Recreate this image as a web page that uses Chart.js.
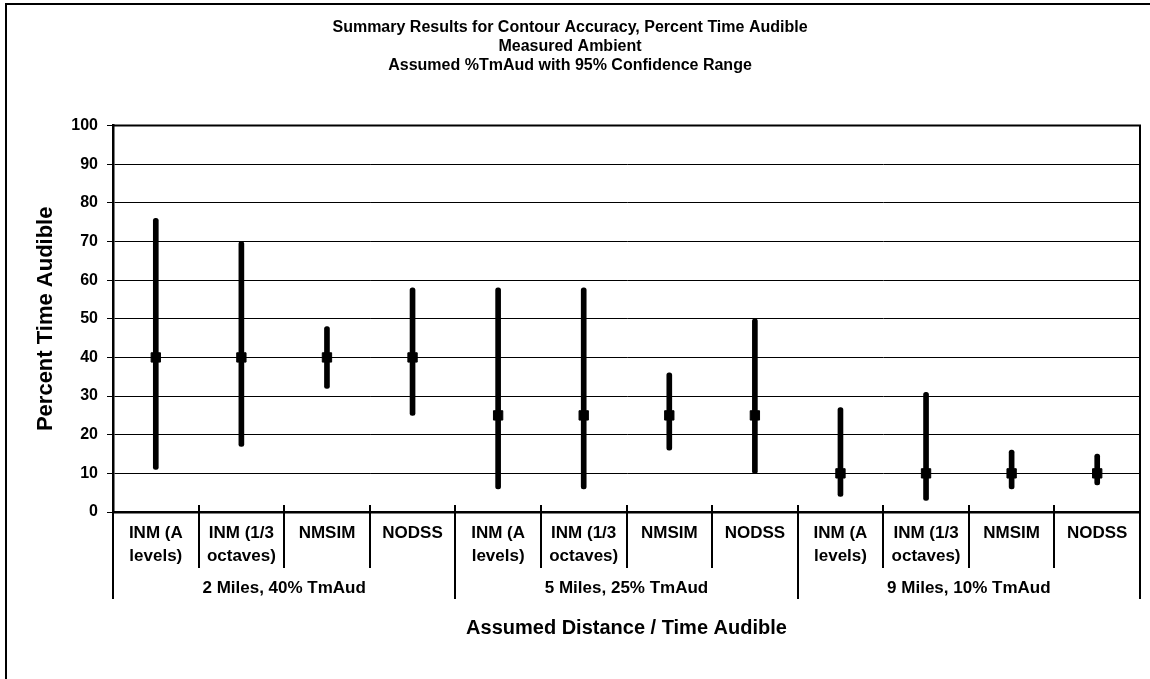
<!DOCTYPE html>
<html>
<head>
<meta charset="utf-8">
<script src="https://cdn.jsdelivr.net/npm/chart.js@4"></script>
<style>
  html, body { margin: 0; padding: 0; background: #fff; }
  #wrap { width: 1150px; height: 679px; }
</style>
</head>
<body>
<div id="wrap"><canvas id="chart" width="1150" height="679"></canvas></div>
<script>
// Methods compared within each distance group
const categories = [
  ["INM (A", "levels)"], ["INM (1/3", "octaves)"], "NMSIM", "NODSS",
  ["INM (A", "levels)"], ["INM (1/3", "octaves)"], "NMSIM", "NODSS",
  ["INM (A", "levels)"], ["INM (1/3", "octaves)"], "NMSIM", "NODSS"
];
const groups = ["2 Miles, 40% TmAud", "5 Miles, 25% TmAud", "9 Miles, 10% TmAud"];
const groupSize = 4;

// Assumed percent time audible and 95% confidence range
const assumed = [40, 40, 40, 40, 25, 25, 25, 25, 10, 10, 10, 10];
const lower   = [11, 17, 32, 25, 6, 6, 16, 10, 4, 3, 6, 7];
const upper   = [76, 70, 48, 58, 58, 58, 36, 50, 27, 31, 16, 15];

const yTicks = { min: 0, max: 100, step: 10 };

const titleLines = [
  "Summary Results for Contour Accuracy, Percent Time Audible",
  "Measured Ambient",
  "Assumed %TmAud with 95% Confidence Range"
];

const FONT = "'Liberation Sans', Arial, Helvetica, sans-serif";

// White page, outer frame, plot frame, category dividers and group labels
const decorations = {
  id: 'decorations',
  beforeDraw(chart) {
    const ctx = chart.ctx;
    ctx.save();
    ctx.fillStyle = '#fff';
    ctx.fillRect(0, 0, chart.width, chart.height);
    ctx.restore();
  },
  afterDraw(chart) {
    const ctx = chart.ctx;
    const area = chart.chartArea;
    const x = chart.scales.x;
    ctx.save();
    ctx.strokeStyle = '#000';
    ctx.lineCap = 'butt';

    // outer frame (top and left edges)
    ctx.lineWidth = 2;
    ctx.beginPath();
    ctx.moveTo(6, chart.height);
    ctx.lineTo(6, 4);
    ctx.lineTo(chart.width, 4);
    ctx.stroke();

    // plot frame: top and right edges
    ctx.beginPath();
    ctx.moveTo(area.left, area.top);
    ctx.lineTo(area.right, area.top);
    ctx.lineTo(area.right, area.bottom);
    ctx.stroke();

    // category dividers
    const n = categories.length;
    const step = (x.getPixelForValue(1) - x.getPixelForValue(0));
    for (let i = 0; i <= n; i++) {
      const px = Math.round(x.getPixelForValue(0) - step / 2 + i * step);
      const isGroup = i % groupSize === 0;
      const y0 = area.bottom - 7;
      const y1 = isGroup ? area.bottom + 87 : area.bottom + 56;
      ctx.lineWidth = 2;
      ctx.beginPath();
      ctx.moveTo(px, (i === n) ? area.top : y0);
      ctx.lineTo(px, y1);
      ctx.stroke();
    }

    // group labels
    ctx.fillStyle = '#000';
    ctx.font = 'bold 17px ' + FONT;
    ctx.textAlign = 'center';
    ctx.textBaseline = 'middle';
    groups.forEach((g, gi) => {
      const a = x.getPixelForValue(gi * groupSize);
      const b = x.getPixelForValue(gi * groupSize + groupSize - 1);
      ctx.fillText(g, (a + b) / 2, area.bottom + 76);
    });
    ctx.restore();
  }
};

new Chart(document.getElementById('chart'), {
  type: 'bar',
  data: {
    labels: categories,
    datasets: [
      {
        type: 'line',
        label: 'Assumed %TmAud',
        data: assumed,
        showLine: false,
        pointStyle: 'rect',
        pointRadius: 6.6,
        pointBorderWidth: 1,
        pointBackgroundColor: '#000',
        pointBorderColor: '#000',
        order: 0
      },
      {
        label: '95% Confidence Range',
        data: lower.map((lo, i) => [lo, upper[i]]),
        backgroundColor: '#000',
        borderWidth: 0,
        borderRadius: 2.5,
        borderSkipped: false,
        barThickness: 5,
        order: 1
      }
    ]
  },
  options: {
    responsive: false,
    devicePixelRatio: 1,
    animation: false,
    layout: { padding: { left: 0, right: 10, top: 0, bottom: 0 } },
    plugins: {
      legend: { display: false },
      tooltip: { enabled: false },
      title: {
        display: true,
        text: titleLines,
        color: '#000',
        font: { family: FONT, size: 16, weight: 'bold', lineHeight: 1.2 },
        padding: { top: 18, bottom: 50 }
      }
    },
    scales: {
      x: {
        offset: true,
        grid: { display: false, drawTicks: false },
        border: { display: true, color: '#000', width: 2.5 },
        ticks: {
          color: '#000',
          padding: 9,
          maxRotation: 0,
          autoSkip: false,
          font: { family: FONT, size: 17, weight: 'bold', lineHeight: 1.4 }
        },
        title: {
          display: true,
          text: 'Assumed Distance / Time Audible',
          color: '#000',
          font: { family: FONT, size: 20, weight: 'bold', lineHeight: 1.2 },
          padding: { top: 0, bottom: 39 }
        },
        afterFit(scale) { scale.height = 167; }
      },
      y: {
        min: yTicks.min,
        max: yTicks.max,
        grid: { color: '#000', lineWidth: 1, tickLength: 6 },
        border: { display: true, color: '#000', width: 2.5 },
        ticks: {
          stepSize: yTicks.step,
          color: '#000',
          padding: 9,
          font: { family: FONT, size: 16, weight: 'bold' }
        },
        title: {
          display: true,
          text: 'Percent Time Audible',
          color: '#000',
          font: { family: FONT, size: 22, weight: 'bold', lineHeight: 1.2 },
          padding: { top: 33, bottom: 0 }
        },
        afterFit(scale) { scale.width = 113; }
      }
    }
  },
  plugins: [decorations]
});
</script>
</body>
</html>
